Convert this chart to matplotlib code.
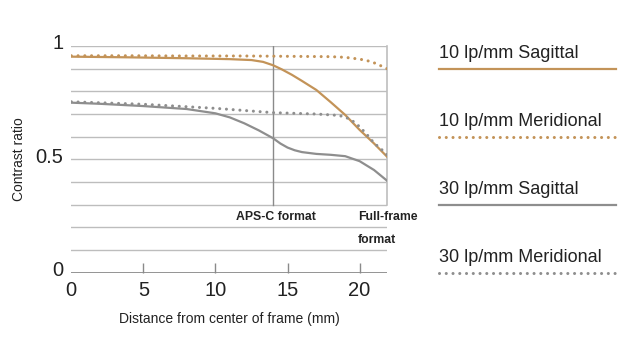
import matplotlib
matplotlib.use("Agg")
from matplotlib import pyplot as plt
from matplotlib.lines import Line2D

plt.rcParams['font.family'] = ['Liberation Sans', 'DejaVu Sans']

# distance from centre (mm) vs contrast
x_10s = [0, 4, 8, 11, 12.5, 13.3, 14, 14.6, 15.3, 16, 17, 18, 19, 20, 21, 21.9]
y_10s = [0.953, 0.950, 0.946, 0.942, 0.938, 0.930, 0.915, 0.897, 0.873, 0.846, 0.806, 0.752, 0.696, 0.630, 0.570, 0.512]

x_10m = [0, 4, 8, 12, 16, 18, 19, 20, 20.5, 21, 21.5, 21.9]
y_10m = [0.957, 0.957, 0.956, 0.956, 0.954, 0.953, 0.950, 0.942, 0.936, 0.926, 0.912, 0.900]

x_30s = [0, 2, 5, 8, 10, 11, 12, 13, 14, 14.5, 15, 15.5, 16, 17, 18, 19, 20, 21, 21.9]
y_30s = [0.750, 0.745, 0.735, 0.722, 0.703, 0.685, 0.659, 0.628, 0.593, 0.570, 0.552, 0.540, 0.532, 0.524, 0.520, 0.514, 0.492, 0.453, 0.406]

x_30m = [0, 5, 10, 14, 17, 18.5, 19, 19.5, 20, 20.5, 21, 21.5, 21.9]
y_30m = [0.754, 0.743, 0.725, 0.706, 0.700, 0.694, 0.687, 0.670, 0.644, 0.610, 0.572, 0.545, 0.520]

legend_labels = ['10 lp/mm Sagittal', '10 lp/mm Meridional', '30 lp/mm Sagittal', '30 lp/mm Meridional']

ORANGE = '#c39358'
GRAY = '#8e8e8e'
GRID = '#bdbdbd'
TXT = '#222222'
DOT = (0, (0.01, 2.2))

fig = plt.figure(figsize=(6.32, 3.48), dpi=100)
ax = fig.add_axes([71.3 / 632, 75.3 / 348, 315.7 / 632, 226.7 / 348])
ax.set_xlim(0, 21.9)
ax.set_ylim(0, 1)

for s in ax.spines.values():
    s.set_visible(False)

# horizontal grid
for g in [0.1 * i for i in range(1, 11)]:
    ax.axhline(g, color=GRID, lw=1.0, zorder=1)
ax.axhline(0, color='#8a8a8a', lw=2.0, zorder=2)
ax.plot([14, 14], [0.3, 1], color='#8a8a8a', lw=1.0, zorder=1)
ax.plot([21.9, 21.9], [0.3, 1], color=GRID, lw=1.2, zorder=1, clip_on=False)

ax.plot(x_10s, y_10s, color=ORANGE, lw=1.6, zorder=3)
ax.plot(x_10m, y_10m, color=ORANGE, lw=2.2, linestyle=DOT, dash_capstyle='round', zorder=3)
ax.plot(x_30s, y_30s, color=GRAY, lw=1.6, zorder=3)
ax.plot(x_30m, y_30m, color=GRAY, lw=2.2, linestyle=DOT, dash_capstyle='round', zorder=3)

ax.set_xticks([5, 10, 15, 20])
ax.tick_params(axis='x', direction='in', length=7, width=1, color='#8a8a8a')
ax.set_xticklabels([])
for v in [0, 5, 10, 15, 20]:
    ax.text(v, -0.078, str(v), ha='center', va='center', fontsize=14.5, color=TXT)
ax.set_yticks([])
for v, lab in [(1, '1'), (0.5, '0.5'), (0, '0')]:
    ax.text(-0.55, v + 0.01, lab, ha='right', va='center', fontsize=14.5, color=TXT)

ax.text(10.95, -0.205, 'Distance from center of frame (mm)', ha='center', va='center', fontsize=10, color=TXT)
ax.text(-3.6, 0.5, 'Contrast ratio', rotation=90, ha='center', va='center', fontsize=10, color=TXT)

ax.text(11.45, 0.245, 'APS-C format', ha='left', va='center', fontsize=8.8, fontweight='bold', color=TXT)
ax.text(19.9, 0.245, 'Full-frame', ha='left', va='center', fontsize=8.8, fontweight='bold', color=TXT, clip_on=False)
ax.text(19.9, 0.145, 'format', ha='left', va='center', fontsize=8.8, fontweight='bold', color=TXT)

# legend on the right
leg_styles = [(ORANGE, '-'), (ORANGE, DOT), (GRAY, '-'), (GRAY, DOT)]
line_y = [69.3, 137.0, 204.7, 272.7]
for lab, (c, ls), ly in zip(legend_labels, leg_styles, line_y):
    yf = 1 - ly / 348
    if ls == '-':
        fig.add_artist(Line2D([439 / 632, 616 / 632], [yf, yf], color=c, lw=1.6))
    else:
        fig.add_artist(Line2D([439 / 632, 616 / 632], [yf, yf], color=c, lw=2.2,
                              linestyle=ls, dash_capstyle='round'))
    fig.text(439 / 632, 1 - (ly - 15.5) / 348, lab, ha='left', va='center', fontsize=13, color=TXT)

fig.savefig('out.png', dpi=100)
